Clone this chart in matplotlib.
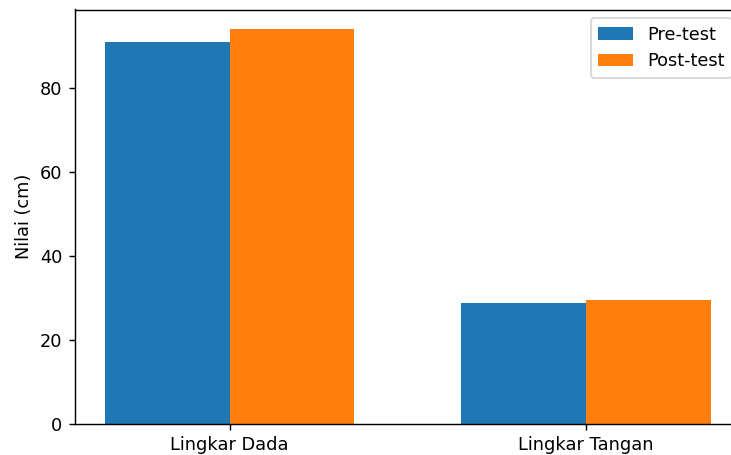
import numpy as np
import matplotlib
matplotlib.use("Agg")
import matplotlib.pyplot as plt

categories = ["Lingkar Dada", "Lingkar Tangan"]
pre_test = [91.0, 28.8]
post_test = [94.0, 29.5]

W, H = 731, 455
DPI = 128
fig = plt.figure(figsize=(W / DPI, H / DPI), dpi=DPI)
left, right, top, bottom = 74.7, 741.0, 9.5, 424.0
ax = fig.add_axes([left / W, (H - bottom) / H, (right - left) / W, (bottom - top) / H])

x = np.arange(len(categories))
width = 0.35
ax.bar(x - width / 2, pre_test, width, label="Pre-test", color="#1f77b4")
ax.bar(x + width / 2, post_test, width, label="Post-test", color="#ff7f0e")

ax.set_xticks(x)
ax.set_xticklabels(categories)
ax.set_ylabel("Nilai (cm)")
ax.legend(loc="upper right")

fig.savefig("out.png", dpi=DPI)
